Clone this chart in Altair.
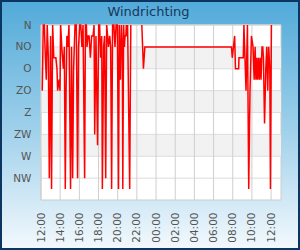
import altair as alt
import pandas as pd

# ---- data ----
title_text = "Windrichting"
dir_names = ["N", "NO", "O", "ZO", "Z", "ZW", "W", "NW"]
dir_degrees = [0, 45, 90, 135, 180, 225, 270, 315]
band_start = [45, 135, 225]
band_end = [90, 180, 270]
tick_labels = ["12:00", "14:00", "16:00", "18:00", "20:00", "22:00", "00:00",
               "02:00", "04:00", "06:00", "08:00", "10:00", "12:00"]

# minutes after 12:00 and wind direction in degrees (first run)
minutes_a = [8, 14, 21, 25, 33, 39, 46, 52, 60, 66, 73, 80, 93, 100, 104, 113, 119, 123,
             130, 140, 146, 152, 157, 162, 168, 175, 185, 191, 198, 204, 213, 221, 229,
             235, 242, 249, 256, 263, 273, 278, 284, 288, 294, 301, 309, 317, 326, 332,
             336, 344, 354, 361, 367, 373, 380, 384, 392, 398, 405, 411, 417, 422, 430,
             436, 442, 448, 456, 463, 470, 478, 485, 490, 497, 503, 509, 512, 517, 522,
             526, 531, 534, 539, 542, 555, 562]
degrees_a = [135, 0, 0, 45, 112.5, 0, 67.5, 315, 22.5, 337.5, 0, 67.5, 67.5, 90, 135, 112.5,
             135, 0, 45, 90, 45, 337.5, 135, 22.5, 45, 0, 337.5, 45, 315, 90, 0, 0, 315,
             45, 0, 0, 45, 0, 315, 0, 0, 45, 22.5, 22.5, 67.5, 22.5, 22.5, 0, 225, 22.5,
             247.5, 0, 0, 67.5, 22.5, 337.5, 45, 22.5, 315, 0, 22.5, 45, 22.5, 45, 337.5,
             0, 0, 45, 0, 0, 337.5, 0, 112.5, 0, 45, 337.5, 0, 45, 22.5, 22.5, 0, 22.5, 0,
             337.5, 0]
# second run
minutes_b = [631, 641, 650, 1192, 1197, 1212, 1217, 1237, 1239, 1266, 1270, 1283, 1292,
             1300, 1308, 1317, 1327, 1334, 1340, 1345, 1350, 1355, 1361, 1366, 1372, 1377,
             1383, 1388, 1392, 1399, 1407, 1413, 1419, 1425, 1432, 1436, 1442]
degrees_b = [0, 90, 45, 45, 67.5, 22.5, 90, 90, 67.5, 67.5, 0, 135, 0, 337.5, 135, 22.5,
             45, 112.5, 45, 112.5, 67.5, 112.5, 67.5, 112.5, 67.5, 112.5, 45, 45, 67.5,
             202.5, 90, 45, 135, 45, 90, 337.5, 0]

base = pd.Timestamp("2024-01-10 12:00")


def iso(m):
    return (base + pd.Timedelta(minutes=m)).strftime("%Y-%m-%dT%H:%M:%S")


rows = [{"t": iso(m), "deg": d, "run": "a"} for m, d in zip(minutes_a, degrees_a)]
rows += [{"t": iso(m), "deg": d, "run": "b"} for m, d in zip(minutes_b, degrees_b)]
df = pd.DataFrame(rows)

tick_times = [iso(120 * i) for i in range(len(tick_labels))]
dt_start = alt.DateTime(year=2024, month=1, date=10, hours=12, minutes=0)
dt_end = alt.DateTime(year=2024, month=1, date=11, hours=13, minutes=2)

W, H = 240, 175

xscale = alt.Scale(domain=[dt_start, dt_end], nice=False)
yscale = alt.Scale(domain=[0, 360], reverse=True, nice=False, zero=False)

label_expr = "[" + ",".join("'%s'" % n for n in dir_names) + "][round(datum.value/45)]"

x_axis = alt.Axis(title=None, format="%H:%M", labelAngle=-90,
                  values=[alt.DateTime(year=2024, month=1, date=10 + (12 + 2 * i) // 24,
                                       hours=(12 + 2 * i) % 24)
                          for i in range(len(tick_labels))],
                  ticks=False, domain=False, grid=False, zindex=2,
                  labelOverlap=False, labelFlush=False, labelBound=False,
                  labelFont="DejaVu Sans", labelFontSize=10.5,
                  labelColor="#555555", labelPadding=12)
y_axis = alt.Axis(title=None, values=dir_degrees, labelExpr=label_expr,
                  ticks=False, domain=False, grid=False, zindex=2,
                  labelOverlap=False, labelFlush=False, labelBound=False,
                  labelFont="DejaVu Sans", labelFontSize=10.5,
                  labelColor="#555555", labelPadding=10)

# gradient background around the whole chart
bg = alt.Chart(alt.Data(values=[{}])).mark_rect(
    fill=alt.Gradient(gradient="linear", x1=0, x2=0, y1=0, y2=1,
                      stops=[alt.GradientStop(color="#52aad9", offset=0),
                             alt.GradientStop(color="#9ccfea", offset=0.5),
                             alt.GradientStop(color="#f3f9fd", offset=1)]),
    stroke="#0b3662", strokeWidth=2,
).encode(x=alt.value(-40), x2=alt.value(W + 18), y=alt.value(-24), y2=alt.value(H + 49))

plotbg = alt.Chart(alt.Data(values=[{}])).mark_rect(fill="white", stroke="#cccccc",
                                                     strokeWidth=1).encode(
    x=alt.value(0), x2=alt.value(W), y=alt.value(0), y2=alt.value(H))

bands = alt.Chart(pd.DataFrame({"s": band_start, "e": band_end})).mark_rect(
    fill="#f2f2f2").encode(
    y=alt.Y("s:Q", scale=yscale, axis=y_axis), y2="e:Q")

hgrid = alt.Chart(pd.DataFrame({"v": dir_degrees})).mark_rule(
    color="#dcdcdc", strokeWidth=1).encode(y=alt.Y("v:Q", scale=yscale, axis=y_axis))

vgrid = alt.Chart(pd.DataFrame({"t": tick_times})).mark_rule(
    color="#cfcfcf", strokeWidth=1).encode(x=alt.X("t:T", scale=xscale, axis=x_axis))

line = alt.Chart(df).mark_line(color="#ff0000", strokeWidth=1.5).encode(
    x=alt.X("t:T", scale=xscale, axis=x_axis),
    y=alt.Y("deg:Q", scale=yscale, axis=y_axis),
    detail="run:N",
)

title = alt.Chart(alt.Data(values=[{}])).mark_text(
    font="DejaVu Sans", fontSize=13, color="#17375e", align="center",
    baseline="alphabetic").encode(
    x=alt.value(107.5), y=alt.value(-9.5), text=alt.value(title_text))

chart = alt.layer(bg, plotbg, bands, hgrid, vgrid, line, title).properties(
    width=W, height=H,
    autosize=alt.AutoSizeParams(type="none"),
    padding={"left": 41, "top": 25, "right": 19, "bottom": 50},
    background="#ffffff",
).configure_view(stroke=None).configure_axis(labelOverlap=False)

chart.save("out.html", embed_options={"renderer": "svg", "actions": False})
